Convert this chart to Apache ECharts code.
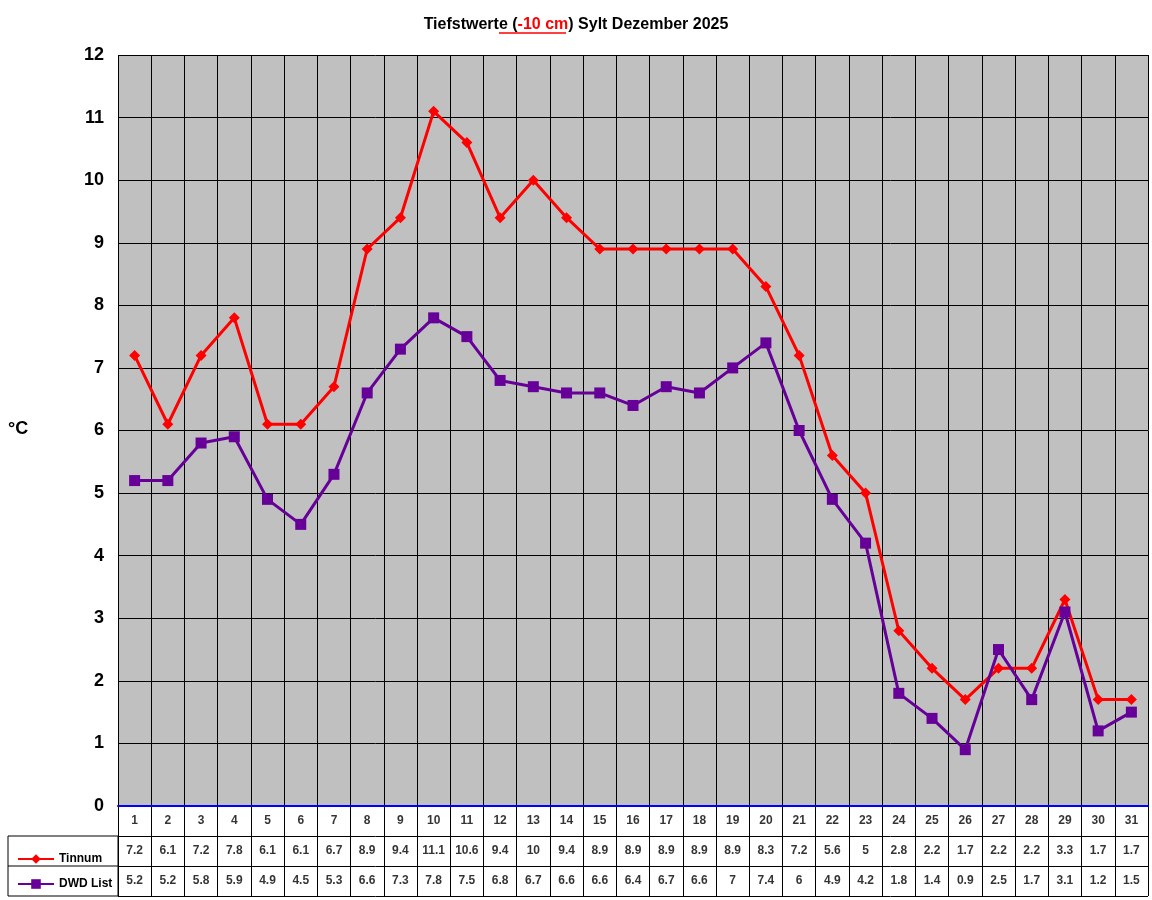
<!DOCTYPE html>
<html lang="de">
<head>
<meta charset="UTF-8">
<title>Tiefstwerte Sylt Dezember 2025</title>
<script src="https://cdn.jsdelivr.net/npm/echarts@6/dist/echarts.min.js"></script>
<style>
  body { margin: 0; background: #fff; }
  #main { width: 1152px; height: 900px; }
</style>
</head>
<body>
<div id="main"></div>
<script>
// Tage und Messwerte
const days = [];
for (let d = 1; d <= 31; d++) days.push(String(d));
const tinnum = [7.2, 6.1, 7.2, 7.8, 6.1, 6.1, 6.7, 8.9, 9.4, 11.1, 10.6, 9.4, 10, 9.4, 8.9, 8.9, 8.9, 8.9, 8.9, 8.3, 7.2, 5.6, 5, 2.8, 2.2, 1.7, 2.2, 2.2, 3.3, 1.7, 1.7];
const dwd = [5.2, 5.2, 5.8, 5.9, 4.9, 4.5, 5.3, 6.6, 7.3, 7.8, 7.5, 6.8, 6.7, 6.6, 6.6, 6.4, 6.7, 6.6, 7, 7.4, 6, 4.9, 4.2, 1.8, 1.4, 0.9, 2.5, 1.7, 3.1, 1.2, 1.5];
const rows = ['tag', 'Tinnum', 'DWD List'];

// Tabellenzellen aus den Arrays
const cells = [];
days.forEach((d, i) => {
  cells.push([i, 0, d]);
  cells.push([i, 1, tinnum[i]]);
  cells.push([i, 2, dwd[i]]);
});

const chart = echarts.init(document.getElementById('main'));
const font = 'Arial, "Liberation Sans", sans-serif';

chart.setOption({
  backgroundColor: '#fff',
  animation: false,
  title: {
    text: '{b|Tiefstwerte (}{r|-10 cm}{b|) Sylt Dezember 2025}',
    left: 'center', top: 12,
    textStyle: {
      rich: {
        b: { fontFamily: font, fontSize: 16, fontWeight: 'bold', color: '#000' },
        r: { fontFamily: font, fontSize: 16, fontWeight: 'bold', color: '#ff0000' }
      }
    }
  },
  legend: {
    orient: 'vertical', left: 12, top: 848, itemGap: 13,
    itemWidth: 36, itemHeight: 12,
    textStyle: { fontFamily: font, fontSize: 12, fontWeight: 'bold', color: '#000' },
    data: ['Tinnum', 'DWD List']
  },
  graphic: [
    { type: 'line', shape: { x1: 499, y1: 33, x2: 566, y2: 33 }, style: { stroke: '#ff0000', lineWidth: 1.5 } },
    { type: 'text', left: 8, top: 420, style: { text: '°C', font: 'bold 18px Arial', fill: '#000' } },
    { type: 'rect', shape: { x: 8, y: 836, width: 110, height: 60 }, style: { fill: 'none', stroke: '#000', lineWidth: 1 } },
    { type: 'line', shape: { x1: 8, y1: 866, x2: 118, y2: 866 }, style: { stroke: '#000', lineWidth: 1 } }
  ],
  grid: [
    { left: 118, right: 4, top: 55, height: 751, backgroundColor: '#c0c0c0', show: true, borderWidth: 0 },
    { left: 118, right: 4, top: 806, height: 90 }
  ],
  xAxis: [
    {
      type: 'category', data: days, gridIndex: 0, boundaryGap: true,
      axisLine: { lineStyle: { color: '#0000ff', width: 2 } },
      axisTick: { show: false }, axisLabel: { show: false },
      splitLine: { show: true, lineStyle: { color: '#000', width: 1 } }
    },
    {
      type: 'category', data: days, gridIndex: 1, boundaryGap: true,
      axisLine: { show: false }, axisTick: { show: false }, axisLabel: { show: false },
      splitLine: { show: true, lineStyle: { color: '#000', width: 1 } }
    }
  ],
  yAxis: [
    {
      type: 'value', gridIndex: 0, min: 0, max: 12, interval: 1,
      axisLine: { show: false }, axisTick: { show: false },
      axisLabel: { fontFamily: font, fontSize: 18, fontWeight: 'bold', color: '#000', margin: 14 },
      splitLine: { lineStyle: { color: '#000', width: 1 } }
    },
    {
      type: 'category', gridIndex: 1, data: rows, inverse: true, boundaryGap: true,
      axisLine: { show: false }, axisTick: { show: false }, axisLabel: { show: false },
      splitLine: { show: true, lineStyle: { color: '#000', width: 1 } }
    }
  ],
  series: [
    {
      name: 'Tinnum', type: 'line', data: tinnum,
      xAxisIndex: 0, yAxisIndex: 0,
      symbol: 'diamond', symbolSize: 11,
      lineStyle: { color: '#ff0000', width: 3 },
      itemStyle: { color: '#ff0000' }
    },
    {
      name: 'DWD List', type: 'line', data: dwd,
      xAxisIndex: 0, yAxisIndex: 0,
      symbol: 'rect', symbolSize: 11,
      lineStyle: { color: '#660099', width: 3 },
      itemStyle: { color: '#660099' }
    },
    {
      type: 'scatter', data: cells, xAxisIndex: 1, yAxisIndex: 1,
      symbolSize: 0, silent: true,
      label: {
        show: true, position: 'inside',
        formatter: p => String(p.data[2]),
        fontFamily: font, fontSize: 12, fontWeight: 'bold', color: '#000'
      }
    }
  ]
});
</script>
</body>
</html>
